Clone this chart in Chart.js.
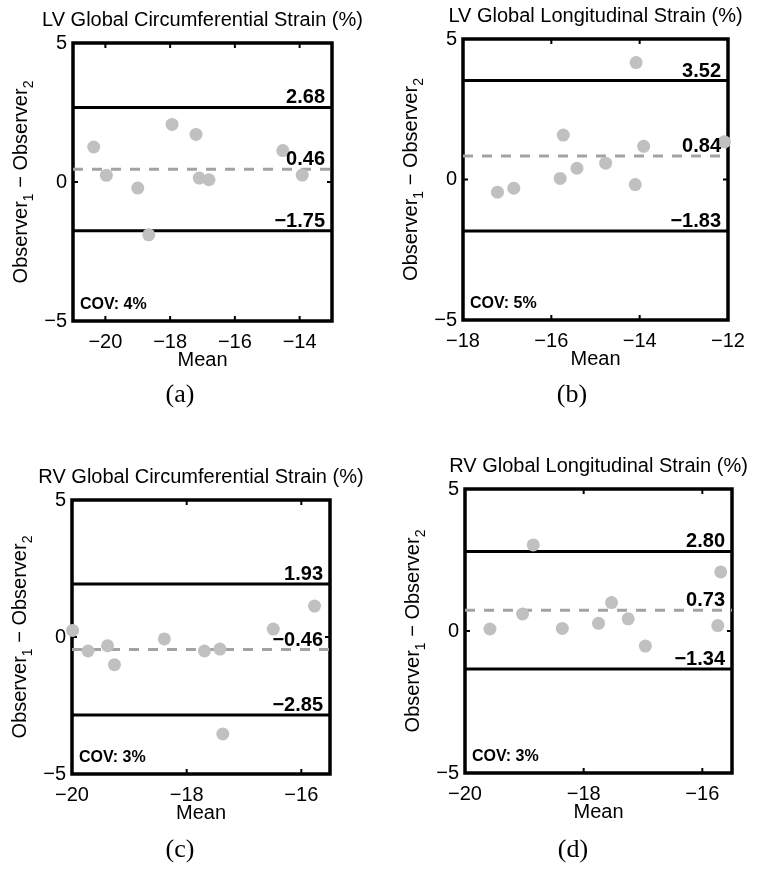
<!DOCTYPE html>
<html lang="en">
<head>
    <meta charset="UTF-8">
    <title>Bland-Altman strain plots</title>
    <script src="https://cdn.jsdelivr.net/npm/chart.js"></script>
    <style>
        body { margin: 0; background: #fff; }
        #page { position: relative; width: 760px; height: 872px; }
        canvas { position: absolute; }
        .cap {
            position: absolute; width: 100px; text-align: center;
            font: 26px/30px "Liberation Serif", "Times New Roman", serif; color: #000;
        }
    </style>
</head>
<body>
<div id="page">
    <canvas id="chartA" width="380" height="436" style="left:0;top:0"></canvas>
    <canvas id="chartB" width="380" height="436" style="left:380px;top:0"></canvas>
    <canvas id="chartC" width="380" height="436" style="left:0;top:436px"></canvas>
    <canvas id="chartD" width="380" height="436" style="left:380px;top:436px"></canvas>
    <div class="cap" style="left:130px;top:379px">(a)</div>
    <div class="cap" style="left:522px;top:379px">(b)</div>
    <div class="cap" style="left:130px;top:834px">(c)</div>
    <div class="cap" style="left:523px;top:834px">(d)</div>
</div>

<script>
    // (a) LV global circumferential strain
    const titleA = 'LV Global Circumferential Strain (%)';
    const meanA = [-20.36, -19.97, -19.0, -18.66, -17.94, -17.2, -17.1, -16.8, -14.52, -13.92];
    const diffA = [1.26, 0.24, -0.22, -1.9, 2.07, 1.71, 0.14, 0.08, 1.13, 0.25];
    const limitsA = [2.68, 0.46, -1.75];   // upper, mean, lower
    const covA = '4%';
    const xRangeA = [-21, -13];
    const xTicksA = [-20, -18, -16, -14];

    // (b) LV global longitudinal strain
    const titleB = 'LV Global Longitudinal Strain (%)';
    const meanB = [-17.22, -16.85, -15.8, -15.73, -15.42, -14.77, -14.1, -14.08, -13.91, -12.08];
    const diffB = [-0.45, -0.31, 0.04, 1.58, 0.4, 0.58, -0.18, 4.16, 1.18, 1.34];
    const limitsB = [3.52, 0.84, -1.83];
    const covB = '5%';
    const xRangeB = [-18, -12];
    const xTicksB = [-18, -16, -14, -12];

    // (c) RV global circumferential strain
    const titleC = 'RV Global Circumferential Strain (%)';
    const meanC = [-19.99, -19.72, -19.38, -19.26, -18.39, -17.69, -17.42, -17.37, -16.49, -15.77];
    const diffC = [0.24, -0.51, -0.32, -1.01, -0.07, -0.51, -0.44, -3.54, 0.29, 1.13];
    const limitsC = [1.93, -0.46, -2.85];
    const covC = '3%';
    const xRangeC = [-20, -15.5];
    const xTicksC = [-20, -18, -16];

    // (d) RV global longitudinal strain
    const titleD = 'RV Global Longitudinal Strain (%)';
    const meanD = [-19.58, -19.03, -18.85, -18.36, -17.75, -17.53, -17.25, -16.96, -15.74, -15.69];
    const diffD = [0.07, 0.6, 3.03, 0.09, 0.27, 1.0, 0.43, -0.53, 0.19, 2.08];
    const limitsD = [2.80, 0.73, -1.34];
    const covD = '3%';
    const xRangeD = [-20, -15.5];
    const xTicksD = [-20, -18, -16];

    const yTicks = [-5, 0, 5];

    const FONT = '"Liberation Sans", Arial, Helvetica, sans-serif';
    const minus = s => String(s).replace('-', '\u2212');

    // frame, inward ticks, titles, limit labels
    const panelPlugin = {
        id: 'panel',
        beforeDatasetsDraw(chart, args, o) {
            const ctx = chart.ctx, ca = chart.chartArea;
            const xs = chart.scales.x, ys = chart.scales.y;
            ctx.save();
            ctx.strokeStyle = '#000';
            ctx.lineWidth = 2;
            ctx.beginPath();
            o.xTicks.forEach(v => {
                const px = xs.getPixelForValue(v);
                ctx.moveTo(px, ca.bottom); ctx.lineTo(px, ca.bottom - 5);
                ctx.moveTo(px, ca.top); ctx.lineTo(px, ca.top + 5);
            });
            yTicks.forEach(v => {
                const py = ys.getPixelForValue(v);
                ctx.moveTo(ca.left, py); ctx.lineTo(ca.left + 5, py);
                ctx.moveTo(ca.right, py); ctx.lineTo(ca.right - 5, py);
            });
            ctx.stroke();
            ctx.lineWidth = 3.5;
            ctx.strokeRect(ca.left, ca.top, ca.right - ca.left, ca.bottom - ca.top);
            ctx.restore();
        },
        afterDatasetsDraw(chart, args, o) {
            const ctx = chart.ctx, ca = chart.chartArea;
            const ys = chart.scales.y;
            ctx.save();
            ctx.fillStyle = '#000';
            ctx.font = 'bold 20px ' + FONT;
            ctx.textAlign = 'right';
            ctx.textBaseline = 'alphabetic';
            o.limits.forEach(v => {
                ctx.fillText(minus(v.toFixed(2)), ca.right - 7, ys.getPixelForValue(v) - 4);
            });
            ctx.font = 'bold 16px ' + FONT;
            ctx.textAlign = 'left';
            ctx.fillText('COV: ' + o.cov, ca.left + 7, ca.bottom - 12);

            // title
            ctx.font = '20px ' + FONT;
            ctx.textAlign = 'center';
            ctx.fillText(o.title, (ca.left + ca.right) / 2, ca.top - 17);

            // y axis label with subscripts
            const parts = [['Observer', 20, 0], ['1', 14, 6], [' \u2212 ', 20, 0], ['Observer', 20, 0], ['2', 14, 6]];
            let total = 0;
            parts.forEach(p => { ctx.font = p[1] + 'px ' + FONT; total += ctx.measureText(p[0]).width; });
            ctx.translate(ca.left - 46, (ca.top + ca.bottom) / 2);
            ctx.rotate(-Math.PI / 2);
            ctx.textAlign = 'left';
            let x = -total / 2;
            parts.forEach(p => {
                ctx.font = p[1] + 'px ' + FONT;
                ctx.fillText(p[0], x, p[2]);
                x += ctx.measureText(p[0]).width;
            });
            ctx.restore();
        }
    };

    function makePanel(id, title, mean, diff, limits, cov, xRange, xTicks, box) {
        const pts = mean.map((m, i) => ({x: m, y: diff[i]}));
        const hline = v => [{x: xRange[0], y: v}, {x: xRange[1], y: v}];
        const lineDs = (v, color, dash) => ({
            data: hline(v), showLine: true, borderColor: color, borderWidth: 3,
            borderDash: dash, pointRadius: 0, pointHoverRadius: 0, order: 1
        });
        new Chart(document.getElementById(id), {
            type: 'scatter',
            data: {
                datasets: [
                    {data: pts, backgroundColor: '#c0c0c0', borderWidth: 0, pointRadius: 6.5, clip: false, order: 0},
                    lineDs(limits[0], '#000', []),
                    lineDs(limits[1], '#a3a3a3', [10, 9]),
                    lineDs(limits[2], '#000', [])
                ]
            },
            options: {
                responsive: false,
                animation: false,
                devicePixelRatio: 1,
                layout: {
                    padding: {left: box.l - 40, top: box.t, right: 380 - box.r, bottom: 436 - box.b - 51}
                },
                scales: {
                    x: {
                        type: 'linear', min: xRange[0], max: xRange[1],
                        grid: {display: false, drawTicks: false},
                        border: {display: false},
                        afterBuildTicks: s => { s.ticks = xTicks.map(v => ({value: v})); },
                        afterFit: s => { s.height = 51; },
                        ticks: {
                            autoSkip: false, maxRotation: 0, padding: 9, color: '#000',
                            font: {family: FONT, size: 20},
                            callback: v => minus(v)
                        },
                        title: {display: true, text: 'Mean', color: '#000', padding: 0, font: {family: FONT, size: 20}}
                    },
                    y: {
                        min: -5, max: 5,
                        grid: {display: false, drawTicks: false},
                        border: {display: false},
                        afterBuildTicks: s => { s.ticks = yTicks.map(v => ({value: v})); },
                        afterFit: s => { s.width = 40; },
                        ticks: {
                            padding: 6, color: '#000',
                            font: {family: FONT, size: 20},
                            callback: v => minus(v)
                        }
                    }
                },
                plugins: {
                    legend: {display: false},
                    tooltip: {enabled: false},
                    panel: {title: title, limits: limits, cov: cov, xTicks: xTicks}
                }
            },
            plugins: [panelPlugin]
        });
    }

    makePanel('chartA', titleA, meanA, diffA, limitsA, covA, xRangeA, xTicksA, {l: 73, r: 332, t: 43, b: 321});
    makePanel('chartB', titleB, meanB, diffB, limitsB, covB, xRangeB, xTicksB, {l: 83, r: 348, t: 39, b: 320});
    makePanel('chartC', titleC, meanC, diffC, limitsC, covC, xRangeC, xTicksC, {l: 72, r: 330, t: 64, b: 338});
    makePanel('chartD', titleD, meanD, diffD, limitsD, covD, xRangeD, xTicksD, {l: 85, r: 352, t: 53, b: 337});
</script>
</body>
</html>
